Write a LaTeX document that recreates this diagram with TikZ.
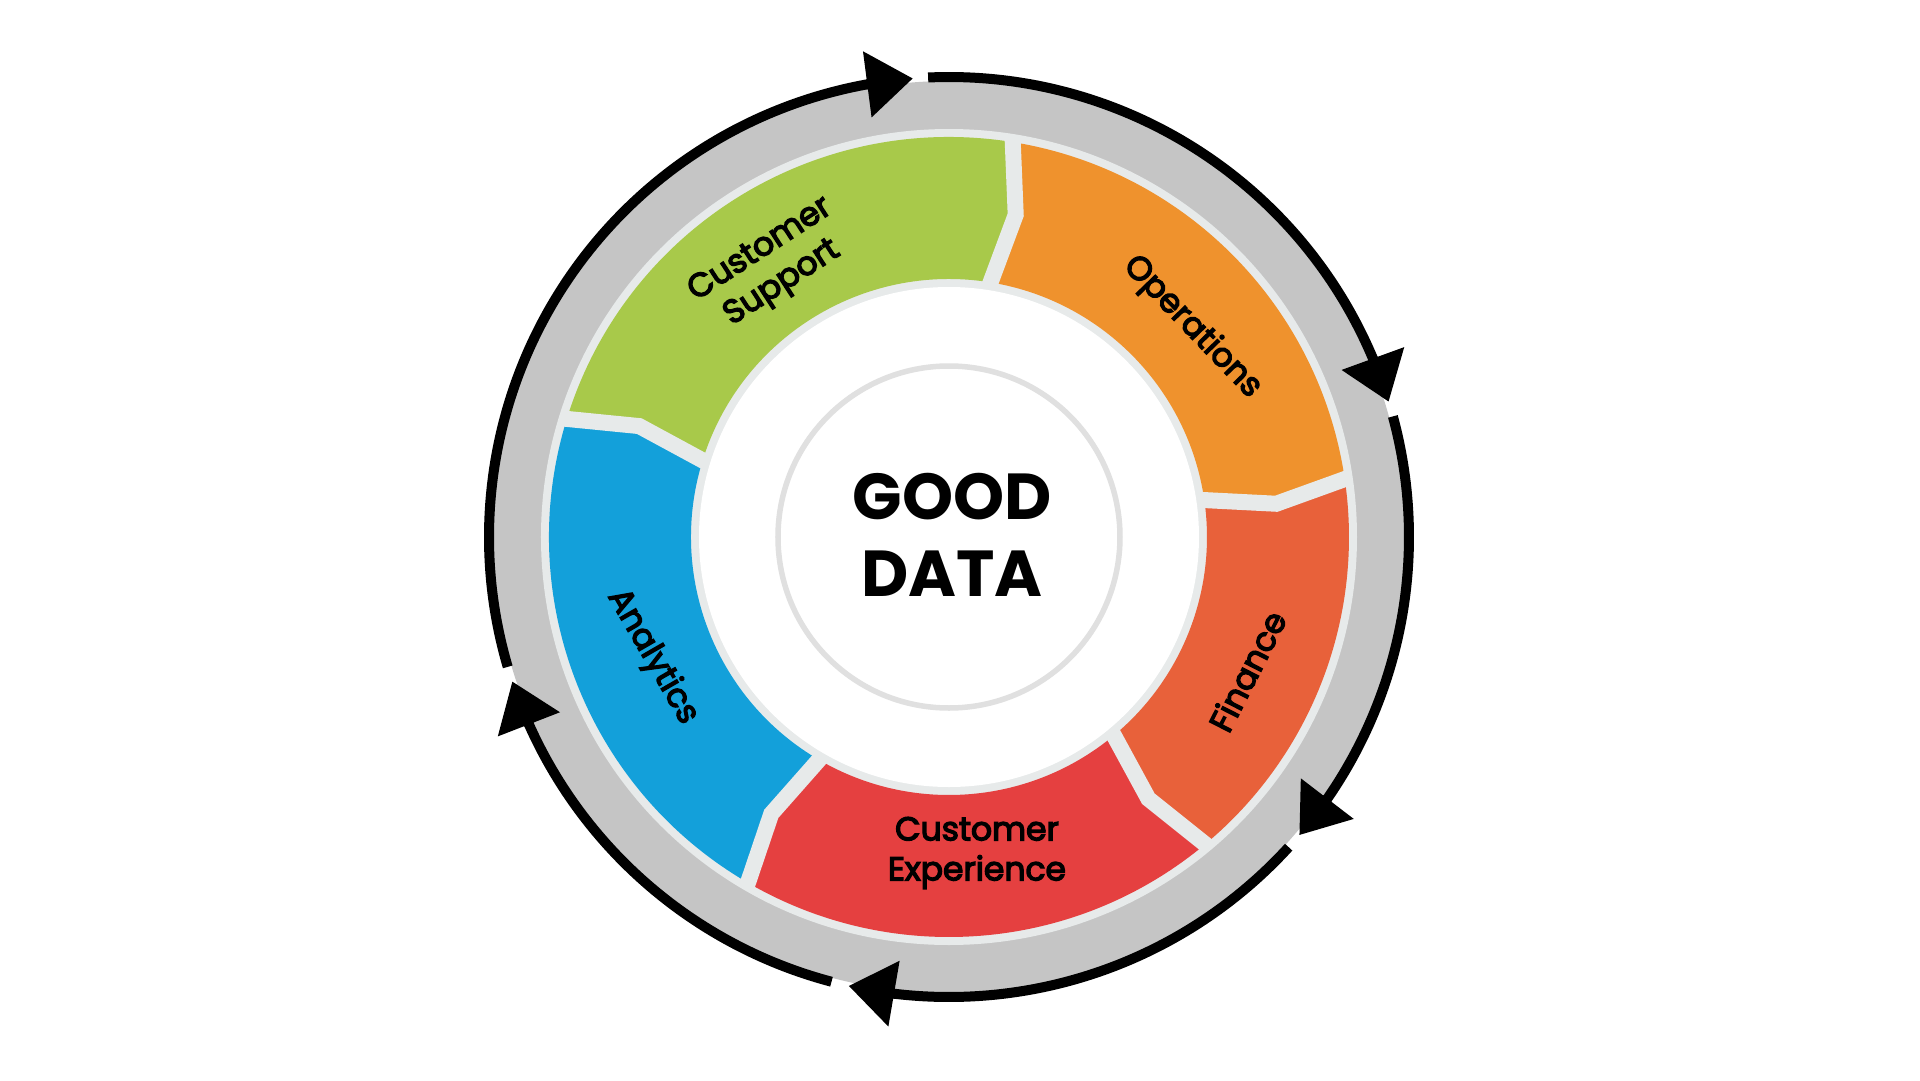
\documentclass[tikz,border=0pt]{standalone}
\usepackage{fontspec}
\setmainfont{Poppins}
\newfontfamily\labelfont{Poppins}[FakeBold=4]
\usetikzlibrary{arrows.meta}
\definecolor{ringgray}{RGB}{197,197,197}
\definecolor{gapgray}{RGB}{231,234,234}
\definecolor{circgray}{RGB}{224,224,224}
\definecolor{csgreen}{RGB}{168,201,74}
\definecolor{opsorange}{RGB}{239,146,45}
\definecolor{finorange}{RGB}{232,97,58}
\definecolor{cxred}{RGB}{229,64,64}
\definecolor{anblue}{RGB}{19,160,218}
\tikzset{
seglabel/.style={align=center, inner sep=0pt, font=\labelfont\fontsize{33}{40}\selectfont}, % text on the coloured parts
ringline/.style={line width=10pt}, % black line round the grey ring
cyclearrow/.style={line width=10pt, -{Triangle[length=46pt,width=64pt]}}, % heads of the black arrows
gapline/.style={draw=gapgray, line width=16pt}, % light gaps between the parts
}
% one coloured part of the ring, from angle #2 down to angle #3
\newcommand{\ringpart}[3]{%
  \fill[#1] (#2:400pt) arc[start angle=#2, end angle=#3, radius=400pt]
    -- ({#3-2.7}:329pt) -- (#3:258pt)
    arc[start angle=#3, end angle=#2, radius=258pt]
    -- ({#2-2.7}:329pt) -- cycle;}

\begin{document}
\begin{tikzpicture}[x=1pt, y=1pt]
    \path[fill=white] (-949,-543) rectangle (971,537);
    \fill[ringgray] (0,0) circle[radius=456pt];
    \fill[gapgray] (0,0) circle[radius=408pt];
    \ringpart{csgreen}{163}{81}
    \ringpart{opsorange}{81}{8.5}
    \ringpart{finorange}{8.5}{-50}
    \ringpart{cxred}{-50}{-120}
    \ringpart{anblue}{240}{163}
    \foreach \t in {81, 8.5, -50, -120, 163}
        \draw[gapline] (\t:406pt) -- ({\t-2.7}:329pt) -- (\t:252pt);
    \fill[white] (0,0) circle[radius=250pt];
    \draw[circgray, line width=5.5pt] (0,0) circle[radius=171pt];
    \node[align=center, inner sep=0pt, font=\bfseries\fontsize{65}{77}\selectfont] at (3,2) (good) {GOOD\\DATA};
    \node[seglabel, rotate=33] at (123.3:323pt) (support) {Customer\\Support};
    \node[seglabel, rotate=-46] at (40.8:321pt) (ops) {Operations};
    \node[seglabel, rotate=63] at (-24.2:327pt) (fin) {Finance};
    \node[seglabel] at (28,-316) (cx) {Customer\\Experience};
    \node[seglabel, rotate=-60] at (202:320pt) (ana) {Analytics};
    % arrows going round clockwise
    \foreach \s/\e in {196.4/94.5, 92.6/17.1, 15.2/-40.4, -42.4/-102.6, -104.8/-161.7}{
        \draw[ringline] (\s:460pt) arc[start angle=\s, end angle={\e+4.5}, radius=460pt];
        \draw[cyclearrow] ({\e+5.8}:460pt) -- (\e:460pt);
    }
\end{tikzpicture}
\end{document}
